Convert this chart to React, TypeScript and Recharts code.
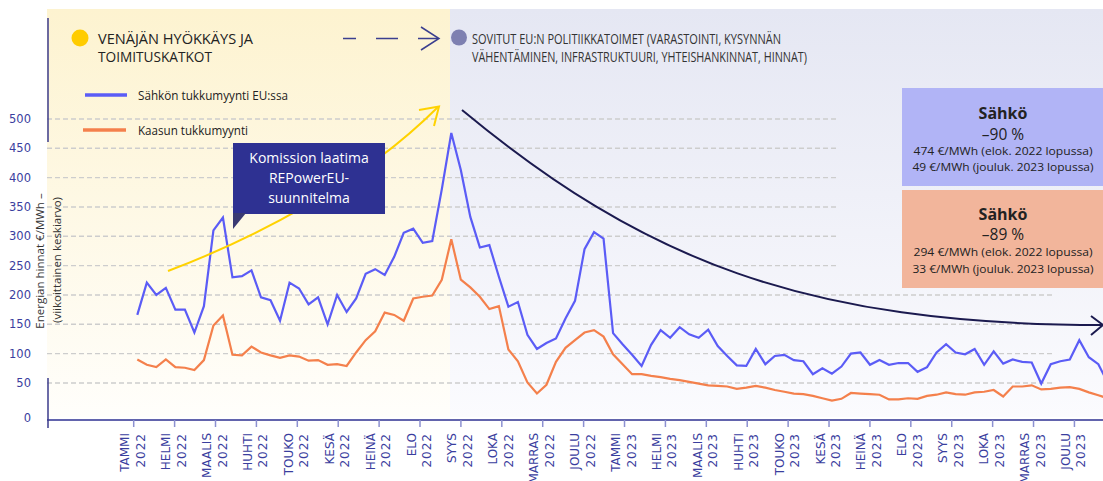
import React from 'react';
import { LineChart, Line, XAxis, YAxis, CartesianGrid } from 'recharts';

// ---- data (weekly averages, €/MWh) ----
const MONTHS = ['TAMMI', 'HELMI', 'MAALIS', 'HUHTI', 'TOUKO', 'KESÄ', 'HEINÄ', 'ELO', 'SYYS', 'LOKA', 'MARRAS', 'JOULU'];
const YEARS = [2022, 2023];

const ELECTRICITY = [
  166, 221, 200, 212, 175, 175, 136, 181, 310, 332,
  230, 232, 242, 196, 191, 156, 221, 211, 184, 196,
  150, 200, 171, 194, 236, 244, 234, 265, 306, 313,
  289, 292, 380, 476, 413, 333, 281, 285, 231, 180,
  188, 132, 108, 118, 126, 160, 190, 278, 307, 296,
  135, 116, 98, 79, 115, 140, 127, 145, 133, 127,
  141, 113, 96, 80, 79, 108, 82, 96, 98, 89,
  87, 65, 75, 66, 78, 100, 102, 81, 89, 81,
  84, 84, 69, 77, 102, 116, 102, 99, 108, 81,
  104, 83, 90, 86, 85, 49, 82, 87, 90, 123,
  94, 82, 50,
];

const GAS = [
  90, 81, 77, 90, 77, 76, 72, 89, 148, 165,
  98, 97, 112, 102, 97, 93, 97, 95, 88, 89,
  81, 82, 79, 102, 123, 138, 170, 166, 156, 194,
  197, 199, 226, 295, 226, 213, 197, 176, 181, 107,
  87, 51, 32, 47, 86, 110, 123, 136, 140, 129,
  99, 82, 65, 65, 62, 60, 57, 55, 52, 49,
  46, 45, 44, 40, 42, 45, 42, 38, 35, 32,
  31, 28, 24, 20, 23, 33, 32, 31, 30, 22,
  22, 24, 23, 28, 30, 34, 31, 30, 34, 35,
  38, 27, 44, 44, 46, 39, 40, 42, 43, 40,
  34, 29, 24,
];

const Y_TICKS = [0, 50, 100, 150, 200, 250, 300, 350, 400, 450, 500];
const GRID_VALUES = [50, 100, 150, 200, 250, 300, 350, 400, 450, 500];

// month tick positions expressed in weeks since the first weekly observation
const FIRST_TICK_WEEK = -0.378;
const WEEKS_PER_MONTH_TICK = 4.2985;
const MONTH_TICKS = Array.from({ length: 24 }, (_, m) => FIRST_TICK_WEEK + m * WEEKS_PER_MONTH_TICK);

const data = ELECTRICITY.map((e, i) => ({ x: i, elec: e, gas: GAS[i] }));

const ELEC_COLOR = '#5b5cf6';
const GAS_COLOR = '#f4804c';
const AXIS_BLUE = '#2e3192';
const LABEL_BLUE = '#3a3e9e';
const FONT = "'Open Sans', 'Noto Sans', sans-serif";

const XTick = (props: any) => {
  const { x, payload, index } = props;
  const i = typeof index === 'number' ? index : payload.index;
  const month = MONTHS[i % 12];
  const year = YEARS[Math.floor(i / 12)];
  return (
    <g transform={`translate(${x},433) rotate(-90)`}>
      <text x={0} y={-8.5} textAnchor="end" dominantBaseline="central" fill={LABEL_BLUE} fontSize={12} fontFamily="DejaVu Sans">
        {month}
      </text>
      <text x={0} y={7} textAnchor="end" dominantBaseline="central" fill={LABEL_BLUE} fontSize={12} fontFamily="DejaVu Sans" letterSpacing={1}>
        {year}
      </text>
    </g>
  );
};

const YTick = (props: any) => {
  const { y, payload } = props;
  const yy = payload.value === 0 ? y + 6 : y;
  return (
    <text x={31} y={yy} textAnchor="end" dominantBaseline="central" fill={LABEL_BLUE} fontSize={11.5} fontFamily="DejaVu Sans">
      {payload.value}
    </text>
  );
};

const gridLine = (p: any) => {
  const v = GRID_VALUES[p.index];
  const x2 = v >= 250 ? 838 : 1055;
  return (
    <line key={`g-${p.index}`} x1={p.x1} y1={p.y1} x2={x2} y2={p.y2} stroke="#cdcdcd" strokeWidth={1.4} strokeDasharray="5 3" />
  );
};

export default function App() {
  return (
    <div style={{ position: 'absolute', left: 0, top: 0, width: 1103, height: 481, background: '#fff', overflow: 'hidden' }}>
      {/* background panels */}
      <svg width={1103} height={481} style={{ position: 'absolute', left: 0, top: 0 }}>
        <defs>
          <linearGradient id="yel" x1="0" y1="0" x2="0" y2="1">
            <stop offset="0" stopColor="#fdf3d0" />
            <stop offset="1" stopColor="#fffefb" />
          </linearGradient>
          <linearGradient id="lav" x1="0" y1="0" x2="0" y2="1">
            <stop offset="0" stopColor="#e5e7f3" />
            <stop offset="1" stopColor="#fbfbfe" />
          </linearGradient>
        </defs>
        <rect x={47} y={9} width={403} height={408} fill="url(#yel)" />
        <rect x={450} y={9} width={653} height={408} fill="url(#lav)" />
      </svg>

      <div style={{ position: 'absolute', left: 0, top: 0 }}>
        <LineChart width={1103} height={481} data={data} margin={{ top: 9, right: 0, bottom: 0, left: 0 }}>
          <CartesianGrid vertical={false} horizontalValues={GRID_VALUES} horizontal={gridLine} />
          <XAxis
            dataKey="x"
            type="number"
            domain={[-9.49, 101.49]}
            allowDataOverflow
            ticks={MONTH_TICKS}
            interval={0}
            height={61}
            tick={<XTick />}
            tickSize={7}
            tickLine={{ stroke: '#8c90d0', strokeWidth: 1.5 }}
            axisLine={{ stroke: AXIS_BLUE, strokeWidth: 1.5 }}
          />
          <YAxis
            type="number"
            domain={[-13.1, 687.4]}
            allowDataOverflow
            ticks={Y_TICKS}
            interval={0}
            width={47}
            axisLine={false}
            tickLine={false}
            tick={<YTick />}
          />
          <Line type="linear" dataKey="gas" stroke={GAS_COLOR} strokeWidth={2.2} dot={false} isAnimationActive={false} />
          <Line type="linear" dataKey="elec" stroke={ELEC_COLOR} strokeWidth={2.2} dot={false} isAnimationActive={false} />
        </LineChart>
      </div>

      {/* annotations */}
      <svg width={1103} height={481} style={{ position: 'absolute', left: 0, top: 0, pointerEvents: 'none' }}>
        {/* left axis segments */}
        <line x1={48} y1={18} x2={48} y2={142} stroke="#3b3b8c" strokeWidth={1.5} />
        <line x1={48} y1={378} x2={48} y2={428} stroke="#3b3b8c" strokeWidth={1.5} />

        {/* y axis title */}
        <g transform="translate(44,261) rotate(-90)">
          <text textAnchor="middle" fontSize={11.5} fill="#333" fontFamily={FONT}>Energian hinnat €/MWh –</text>
        </g>
        <g transform="translate(61,260) rotate(-90)">
          <text textAnchor="middle" fontSize={11.5} fill="#333" fontFamily={FONT}>(viikoittainen keskiarvo)</text>
        </g>

        {/* header left */}
        <circle cx={80} cy={38} r={8.5} fill="#ffcc00" />
        <text x={98} y={43.5} fontSize={15} fill="#222" fontFamily={FONT} textLength={155} lengthAdjust="spacingAndGlyphs">VENÄJÄN HYÖKKÄYS JA</text>
        <text x={98} y={62} fontSize={15} fill="#222" fontFamily={FONT} textLength={114} lengthAdjust="spacingAndGlyphs">TOIMITUSKATKOT</text>

        {/* dashed arrow */}
        <g stroke="#3b3f8f" strokeWidth={1.5} fill="none">
          <line x1={343} y1={38.5} x2={356} y2={38.5} />
          <line x1={376} y1={38.5} x2={398} y2={38.5} />
          <line x1={418} y1={38.5} x2={438} y2={38.5} />
          <polyline points="421,27 439,38.5 421,50" />
        </g>

        {/* header right */}
        <circle cx={459} cy={37.5} r={8} fill="#7e80b1" />
        <text x={472} y={43.5} fontSize={14.5} fill="#333" fontFamily={FONT} textLength={309} lengthAdjust="spacingAndGlyphs">SOVITUT EU:N POLITIIKKATOIMET (VARASTOINTI, KYSYNNÄN</text>
        <text x={472} y={61.5} fontSize={14.5} fill="#333" fontFamily={FONT} textLength={335} lengthAdjust="spacingAndGlyphs">VÄHENTÄMINEN, INFRASTRUKTUURI, YHTEISHANKINNAT, HINNAT)</text>

        {/* legend */}
        <line x1={85} y1={95} x2={127} y2={95} stroke={ELEC_COLOR} strokeWidth={3.5} />
        <text x={138} y={99.5} fontSize={13} fill="#222" fontFamily={FONT} textLength={150} lengthAdjust="spacingAndGlyphs">Sähkön tukkumyynti EU:ssa</text>
        <line x1={83} y1={130} x2={126} y2={130} stroke={GAS_COLOR} strokeWidth={3.5} />
        <text x={138} y={134.5} fontSize={13} fill="#222" fontFamily={FONT} textLength={110} lengthAdjust="spacingAndGlyphs">Kaasun tukkumyynti</text>

        {/* yellow arrow */}
        <path d="M168,271 C250,240 360,185 438,107" stroke="#ffd200" strokeWidth={2} fill="none" />
        <polyline points="419,110 439,106.5 434,126" stroke="#ffd200" strokeWidth={2} fill="none" />

        {/* callout */}
        <rect x={233} y={143} width={152} height={71} fill={AXIS_BLUE} />
        <polygon points="233,213 246,213 233,229" fill="#3a3a72" />
        <text x={309} y={163} textAnchor="middle" fontSize={14} fill="#fff" fontFamily={FONT}>Komission laatima</text>
        <text x={309} y={183} textAnchor="middle" fontSize={14} fill="#fff" fontFamily={FONT}>REPowerEU-</text>
        <text x={309} y={203} textAnchor="middle" fontSize={14} fill="#fff" fontFamily={FONT}>suunnitelma</text>

        {/* navy arrow */}
        <path d="M462,110 C642,259 803,325 1103,325" stroke="#1b1a4f" strokeWidth={2} fill="none" />
        <polyline points="1091,316 1103,325 1091,335" stroke="#1b1a4f" strokeWidth={2} fill="none" />

        {/* boxes */}
        <rect x={902} y={88} width={201} height={98} fill="#b1b4f6" />
        <text x={1003} y={119} textAnchor="middle" fontSize={16} fontWeight="bold" fill="#222" fontFamily={FONT}>Sähkö</text>
        <text x={1003} y={140} textAnchor="middle" fontSize={15.5} fill="#222" fontFamily={FONT}>–90 %</text>
        <text x={1003} y={154.5} textAnchor="middle" fontSize={11} fill="#222" fontFamily={FONT} textLength={179} lengthAdjust="spacingAndGlyphs">474 €/MWh (elok. 2022 lopussa)</text>
        <text x={1003} y={170.5} textAnchor="middle" fontSize={11} fill="#222" fontFamily={FONT} textLength={181} lengthAdjust="spacingAndGlyphs">49 €/MWh (jouluk. 2023 lopussa)</text>

        <rect x={902} y={190} width={201} height={98} fill="#f2b59b" />
        <text x={1003} y={219.5} textAnchor="middle" fontSize={16} fontWeight="bold" fill="#222" fontFamily={FONT}>Sähkö</text>
        <text x={1003} y={240} textAnchor="middle" fontSize={15.5} fill="#222" fontFamily={FONT}>–89 %</text>
        <text x={1003} y={256} textAnchor="middle" fontSize={11} fill="#222" fontFamily={FONT} textLength={179} lengthAdjust="spacingAndGlyphs">294 €/MWh (elok. 2022 lopussa)</text>
        <text x={1003} y={272.5} textAnchor="middle" fontSize={11} fill="#222" fontFamily={FONT} textLength={181} lengthAdjust="spacingAndGlyphs">33 €/MWh (jouluk. 2023 lopussa)</text>
      </svg>
    </div>
  );
}
